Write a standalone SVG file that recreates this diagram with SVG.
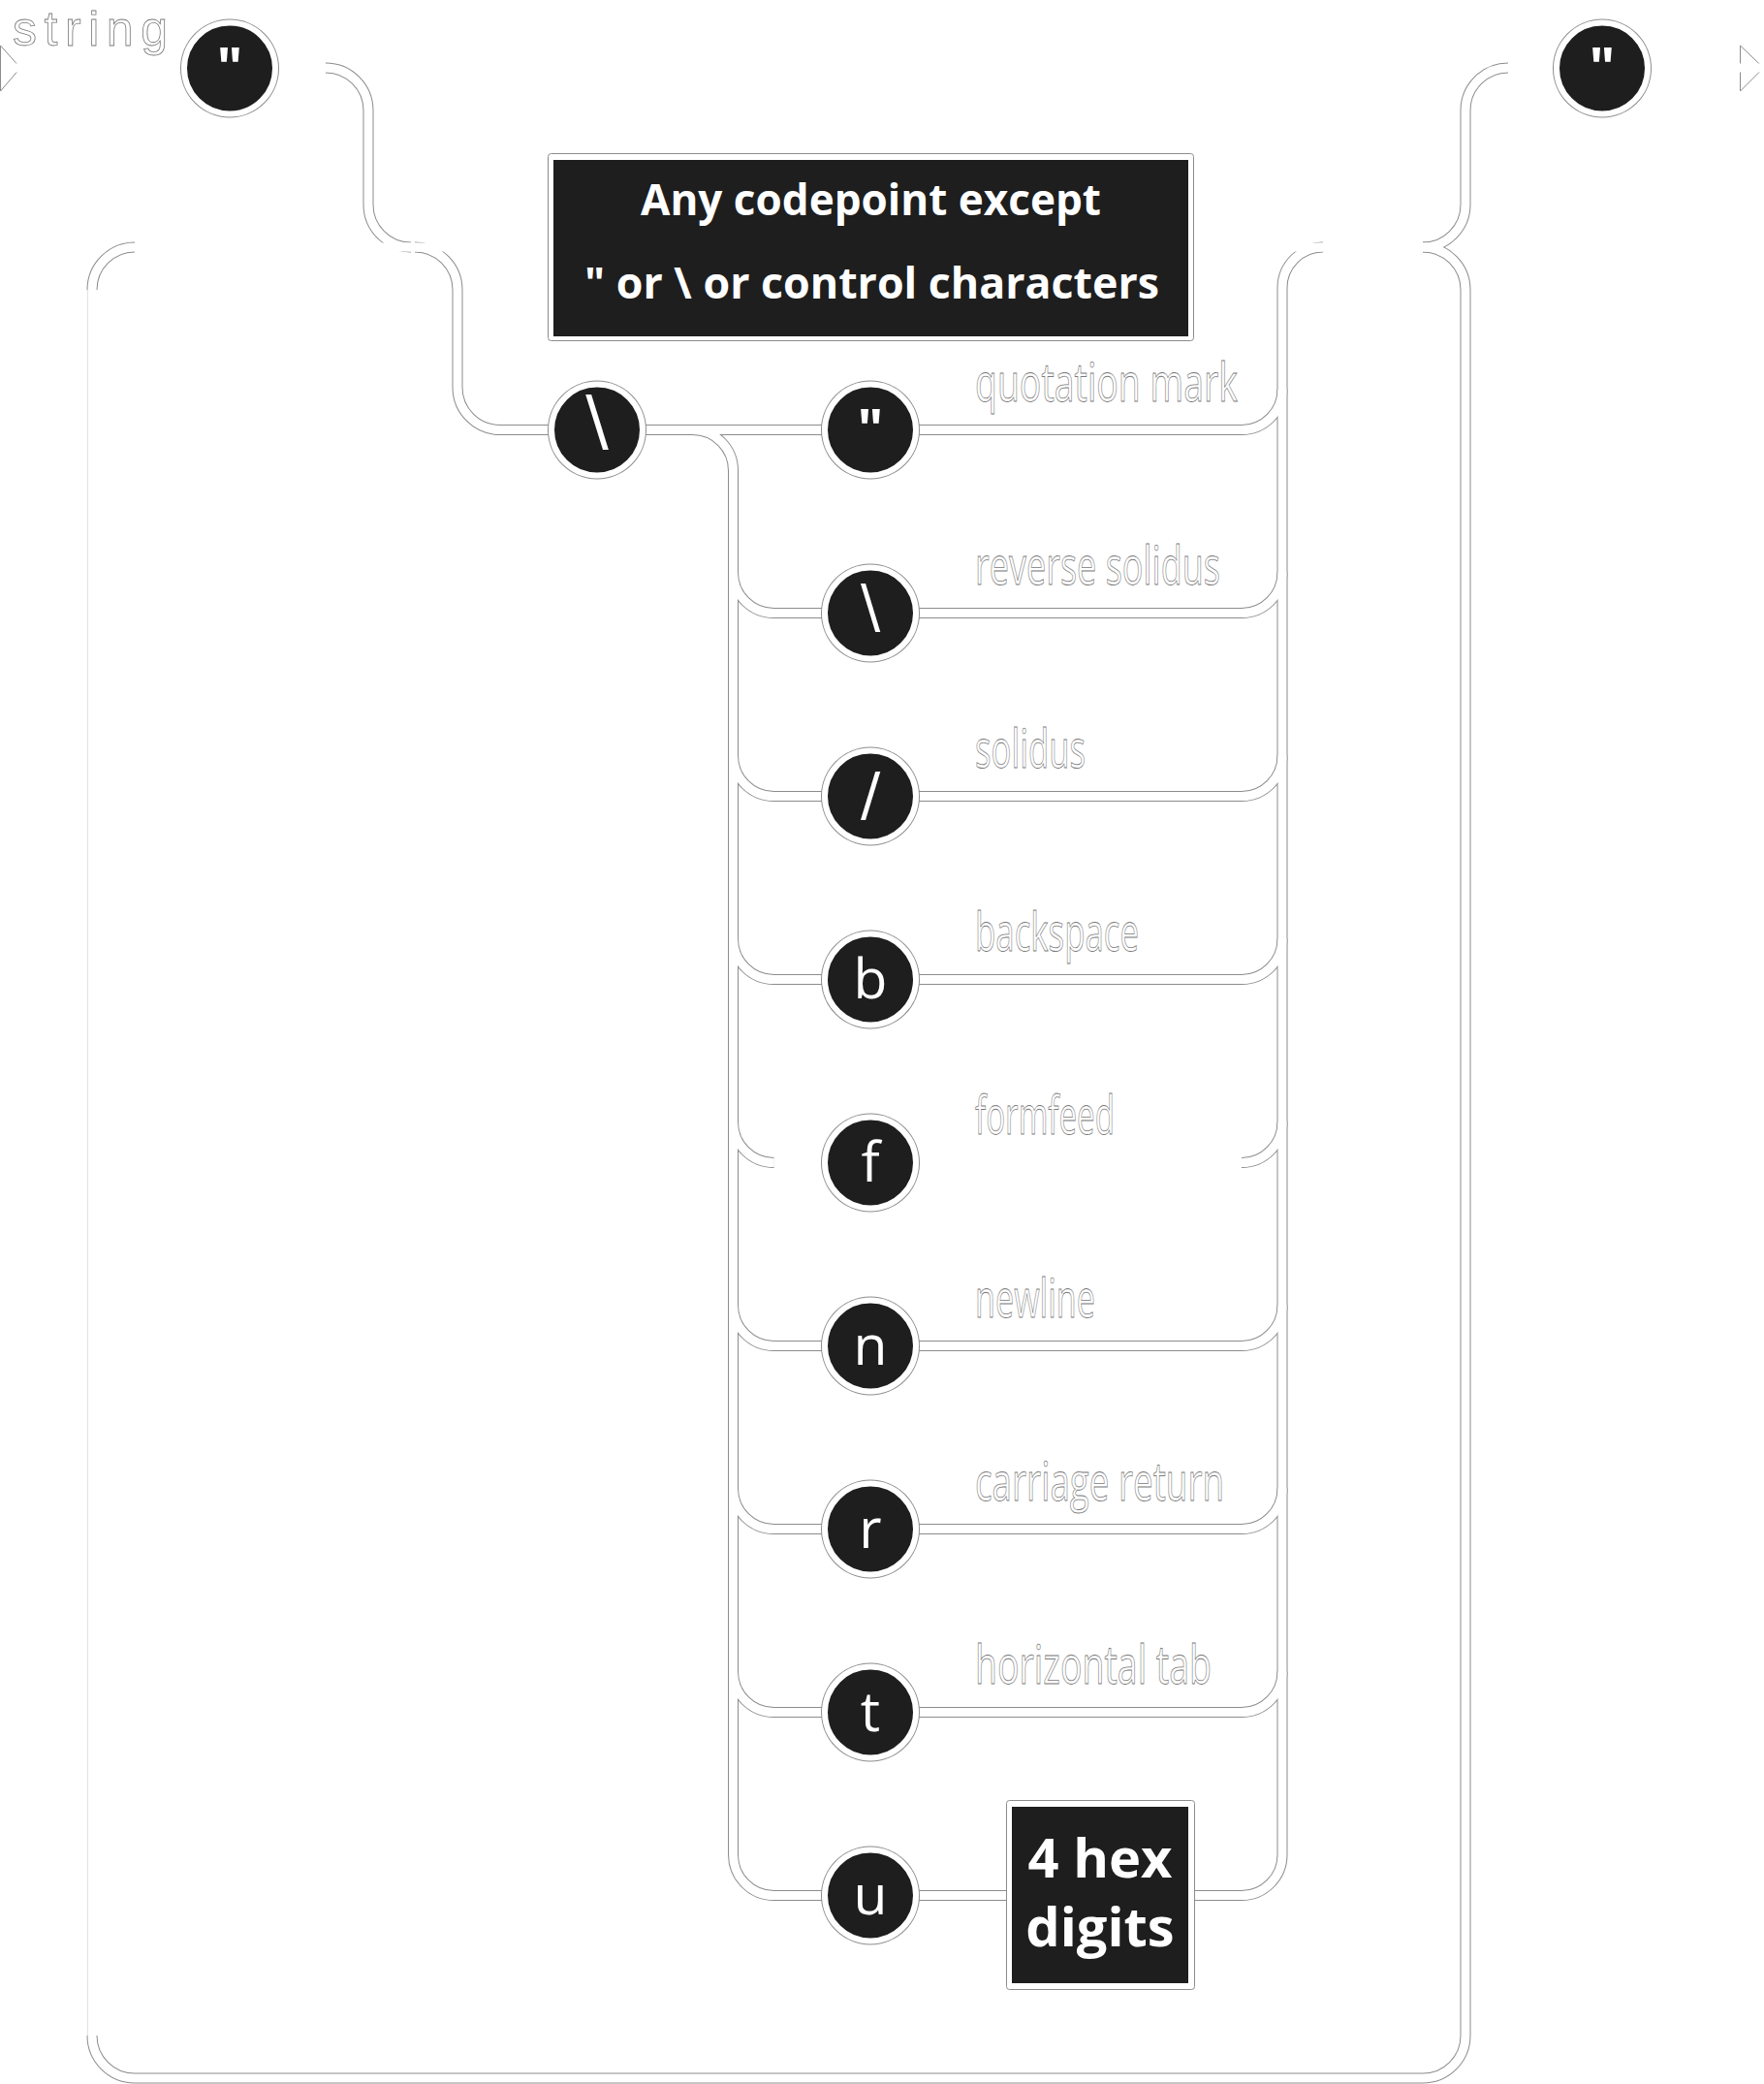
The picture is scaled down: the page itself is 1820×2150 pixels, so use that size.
<svg xmlns="http://www.w3.org/2000/svg" width="1820" height="2150" viewBox="0 0 1820 2150">
<style>
.e{fill:none;stroke:#8c8c8c;stroke-width:11}
.w{fill:none;stroke:#fff;stroke-width:9}
.ring{fill:#8c8c8c}
.disc{fill:#1e1e1e;stroke:#fff;stroke-width:6}
.ct{font-family:"Open Sans","DejaVu Sans",sans-serif;font-size:57px;fill:#fff;text-anchor:middle}
.sl{font-family:"DejaVu Sans",sans-serif;fill:#fff;text-anchor:middle}
.lbl{font-family:"Open Sans","DejaVu Sans",sans-serif;font-size:54px;fill:#fff;stroke:#7a7a7a;stroke-width:0.8}
.bt{font-family:"Open Sans","DejaVu Sans",sans-serif;font-weight:700;fill:#fff;text-anchor:middle}
.tri{fill:#fff;stroke:#8c8c8c;stroke-width:1}
.boxo{fill:#fff;stroke:#8c8c8c;stroke-width:1}
.boxi{fill:#1e1e1e}
</style>
<defs>
<path id="p1" d="M336,70 A44,44 0 0 1 380,114 V211 A44,44 0 0 0 424,255"/>
<path id="p2" d="M428,255 A44,44 0 0 1 472,299 V399.5 A44,44 0 0 0 516,443.5 H566"/>
<path id="p3" d="M666,443.5 H848"/>
<path id="p4" d="M714.5,443.5 A42,42 0 0 1 756.5,485.5 V1913.5 A42,42 0 0 0 798.5,1955.5 H848"/>
<path id="p5" d="M948,443.5 H1281 A42,42 0 0 0 1323,401.5"/>
<path id="p6" d="M948,1955.5 H1038 M1232,1955.5 H1281 A42,42 0 0 0 1323,1913.5 V297 A42,42 0 0 1 1365,255"/>
<path id="p7" d="M1468,255 A44,44 0 0 0 1512,211 V114 A44,44 0 0 1 1556,70"/>
<path id="p8" d="M1468,255 A44,44 0 0 1 1512,299 V2100 A44,44 0 0 1 1468,2144 H139 A44,44 0 0 1 95,2100"/>
<path id="p9" d="M95,299 A44,44 0 0 1 139,255"/>
<path id="r2" d="M756.5,590.5 A42,42 0 0 0 798.5,632.5 H848 M948,632.5 H1281 A42,42 0 0 0 1323,590.5"/>
<path id="r3" d="M756.5,779.5 A42,42 0 0 0 798.5,821.5 H848 M948,821.5 H1281 A42,42 0 0 0 1323,779.5"/>
<path id="r4" d="M756.5,968.5 A42,42 0 0 0 798.5,1010.5 H848 M948,1010.5 H1281 A42,42 0 0 0 1323,968.5"/>
<path id="r5" d="M756.5,1157.5 A42,42 0 0 0 798.5,1199.5 M1281,1199.5 A42,42 0 0 0 1323,1157.5"/>
<path id="r6" d="M756.5,1346.5 A42,42 0 0 0 798.5,1388.5 H848 M948,1388.5 H1281 A42,42 0 0 0 1323,1346.5"/>
<path id="r7" d="M756.5,1535.5 A42,42 0 0 0 798.5,1577.5 H848 M948,1577.5 H1281 A42,42 0 0 0 1323,1535.5"/>
<path id="r8" d="M756.5,1724.5 A42,42 0 0 0 798.5,1766.5 H848 M948,1766.5 H1281 A42,42 0 0 0 1323,1724.5"/>
</defs>
<rect width="1820" height="2150" fill="#fff"/>
<g id="start-end-markers">
<polygon class="tri" points="0.5,47 21,70 0.5,94"/>
<polygon class="tri" points="1795.5,47 1819.5,70 1795.5,94"/>
</g>
<g id="connectors">
<use href="#p1" class="e"/><use href="#p2" class="e"/><use href="#p3" class="e"/><use href="#p4" class="e"/>
<use href="#p5" class="e"/><use href="#p6" class="e"/><use href="#p7" class="e"/><use href="#p8" class="e"/><use href="#p9" class="e"/>
<use href="#r2" class="e"/><use href="#r3" class="e"/><use href="#r4" class="e"/><use href="#r5" class="e"/>
<use href="#r6" class="e"/><use href="#r7" class="e"/><use href="#r8" class="e"/>
<line x1="90.5" y1="299" x2="90.5" y2="2100" stroke="#c4c4c4" stroke-width="1"/>
<use href="#p1" class="w"/><use href="#p2" class="w"/><use href="#p3" class="w"/><use href="#p4" class="w"/>
<use href="#p5" class="w"/><use href="#p6" class="w"/><use href="#p7" class="w"/><use href="#p8" class="w"/><use href="#p9" class="w"/>
<use href="#r2" class="w"/><use href="#r3" class="w"/><use href="#r4" class="w"/><use href="#r5" class="w"/>
<use href="#r6" class="w"/><use href="#r7" class="w"/><use href="#r8" class="w"/>
<path class="w" d="M2,70 H336 M1556,70 H1820 M139,255 H566 M1231,255 H1468 M798.5,1199.5 H848 M948,1199.5 H1281"/>
<path d="M95.5,299 V2100" fill="none" stroke="#fff" stroke-width="10"/>
</g>
<g id="label-string">
<text class="lbl" x="13" y="47" style="font-family:'Liberation Sans',Arial,sans-serif;font-size:50px" textLength="160" lengthAdjust="spacing">string</text>
</g>
<g id="node-quote-open">
<circle class="ring" cx="237" cy="70.5" r="51"/><circle class="disc" cx="237" cy="70.5" r="47"/>
<text class="ct" x="237" y="90" font-weight="700">"</text>
</g>
<g id="node-quote-close">
<circle class="ring" cx="1653" cy="70.5" r="51"/><circle class="disc" cx="1653" cy="70.5" r="47"/>
<text class="ct" x="1653" y="90" font-weight="700">"</text>
</g>
<g id="node-any-codepoint">
<rect class="boxo" x="565.5" y="158.5" width="666" height="193" rx="3"/>
<rect class="boxi" x="571" y="165" width="655" height="182"/>
<text class="bt" x="898.5" y="222" font-size="44" textLength="475" lengthAdjust="spacingAndGlyphs">Any codepoint except</text>
<text class="bt" x="899.5" y="308" font-size="44" textLength="593" lengthAdjust="spacingAndGlyphs">" or \ or control characters</text>
</g>
<g id="node-escape">
<circle class="ring" cx="616" cy="443.5" r="51"/><circle class="disc" cx="616" cy="443.5" r="47"/>
<text class="sl" x="616" y="458" font-size="70">\</text>
</g>
<g id="node-quotation-mark">
<circle class="ring" cx="898" cy="443.5" r="51"/><circle class="disc" cx="898" cy="443.5" r="47"/>
<text class="ct" x="898" y="463" font-weight="700">"</text>
<text class="lbl" x="1006" y="413.5" textLength="271" lengthAdjust="spacingAndGlyphs">quotation mark</text>
</g>
<g id="node-reverse-solidus">
<circle class="ring" cx="898" cy="632.5" r="51"/><circle class="disc" cx="898" cy="632.5" r="47"/>
<text class="sl" x="898" y="646" font-size="60">\</text>
<text class="lbl" x="1006" y="602.5" textLength="253" lengthAdjust="spacingAndGlyphs">reverse solidus</text>
</g>
<g id="node-solidus">
<circle class="ring" cx="898" cy="821.5" r="51"/><circle class="disc" cx="898" cy="821.5" r="47"/>
<text class="sl" x="898" y="839.5" font-size="60">/</text>
<text class="lbl" x="1006" y="791.5" textLength="114" lengthAdjust="spacingAndGlyphs">solidus</text>
</g>
<g id="node-backspace">
<circle class="ring" cx="898" cy="1010.5" r="51"/><circle class="disc" cx="898" cy="1010.5" r="47"/>
<text class="ct" x="898" y="1030">b</text>
<text class="lbl" x="1006" y="980.5" textLength="169" lengthAdjust="spacingAndGlyphs">backspace</text>
</g>
<g id="node-formfeed">
<circle class="ring" cx="898" cy="1199.5" r="51"/><circle class="disc" cx="898" cy="1199.5" r="47"/>
<text class="ct" x="898" y="1219">f</text>
<text class="lbl" x="1006" y="1169.5" textLength="144" lengthAdjust="spacingAndGlyphs">formfeed</text>
</g>
<g id="node-newline">
<circle class="ring" cx="898" cy="1388.5" r="51"/><circle class="disc" cx="898" cy="1388.5" r="47"/>
<text class="ct" x="898" y="1408">n</text>
<text class="lbl" x="1006" y="1358.5" textLength="124" lengthAdjust="spacingAndGlyphs">newline</text>
</g>
<g id="node-carriage-return">
<circle class="ring" cx="898" cy="1577.5" r="51"/><circle class="disc" cx="898" cy="1577.5" r="47"/>
<text class="ct" x="898" y="1597">r</text>
<text class="lbl" x="1006" y="1547.5" textLength="257" lengthAdjust="spacingAndGlyphs">carriage return</text>
</g>
<g id="node-horizontal-tab">
<circle class="ring" cx="898" cy="1766.5" r="51"/><circle class="disc" cx="898" cy="1766.5" r="47"/>
<text class="ct" x="898" y="1786">t</text>
<text class="lbl" x="1006" y="1736.5" textLength="244" lengthAdjust="spacingAndGlyphs">horizontal tab</text>
</g>
<g id="node-u">
<circle class="ring" cx="898" cy="1955.5" r="51"/><circle class="disc" cx="898" cy="1955.5" r="47"/>
<text class="ct" x="898" y="1975">u</text>
</g>
<g id="node-4-hex-digits">
<rect class="boxo" x="1038.5" y="1857.5" width="194" height="195" rx="3"/>
<rect class="boxi" x="1044" y="1864" width="182" height="182"/>
<text class="bt" x="1135" y="1937" font-size="56">4 hex</text>
<text class="bt" x="1135" y="2008" font-size="56">digits</text>
</g>
</svg>
